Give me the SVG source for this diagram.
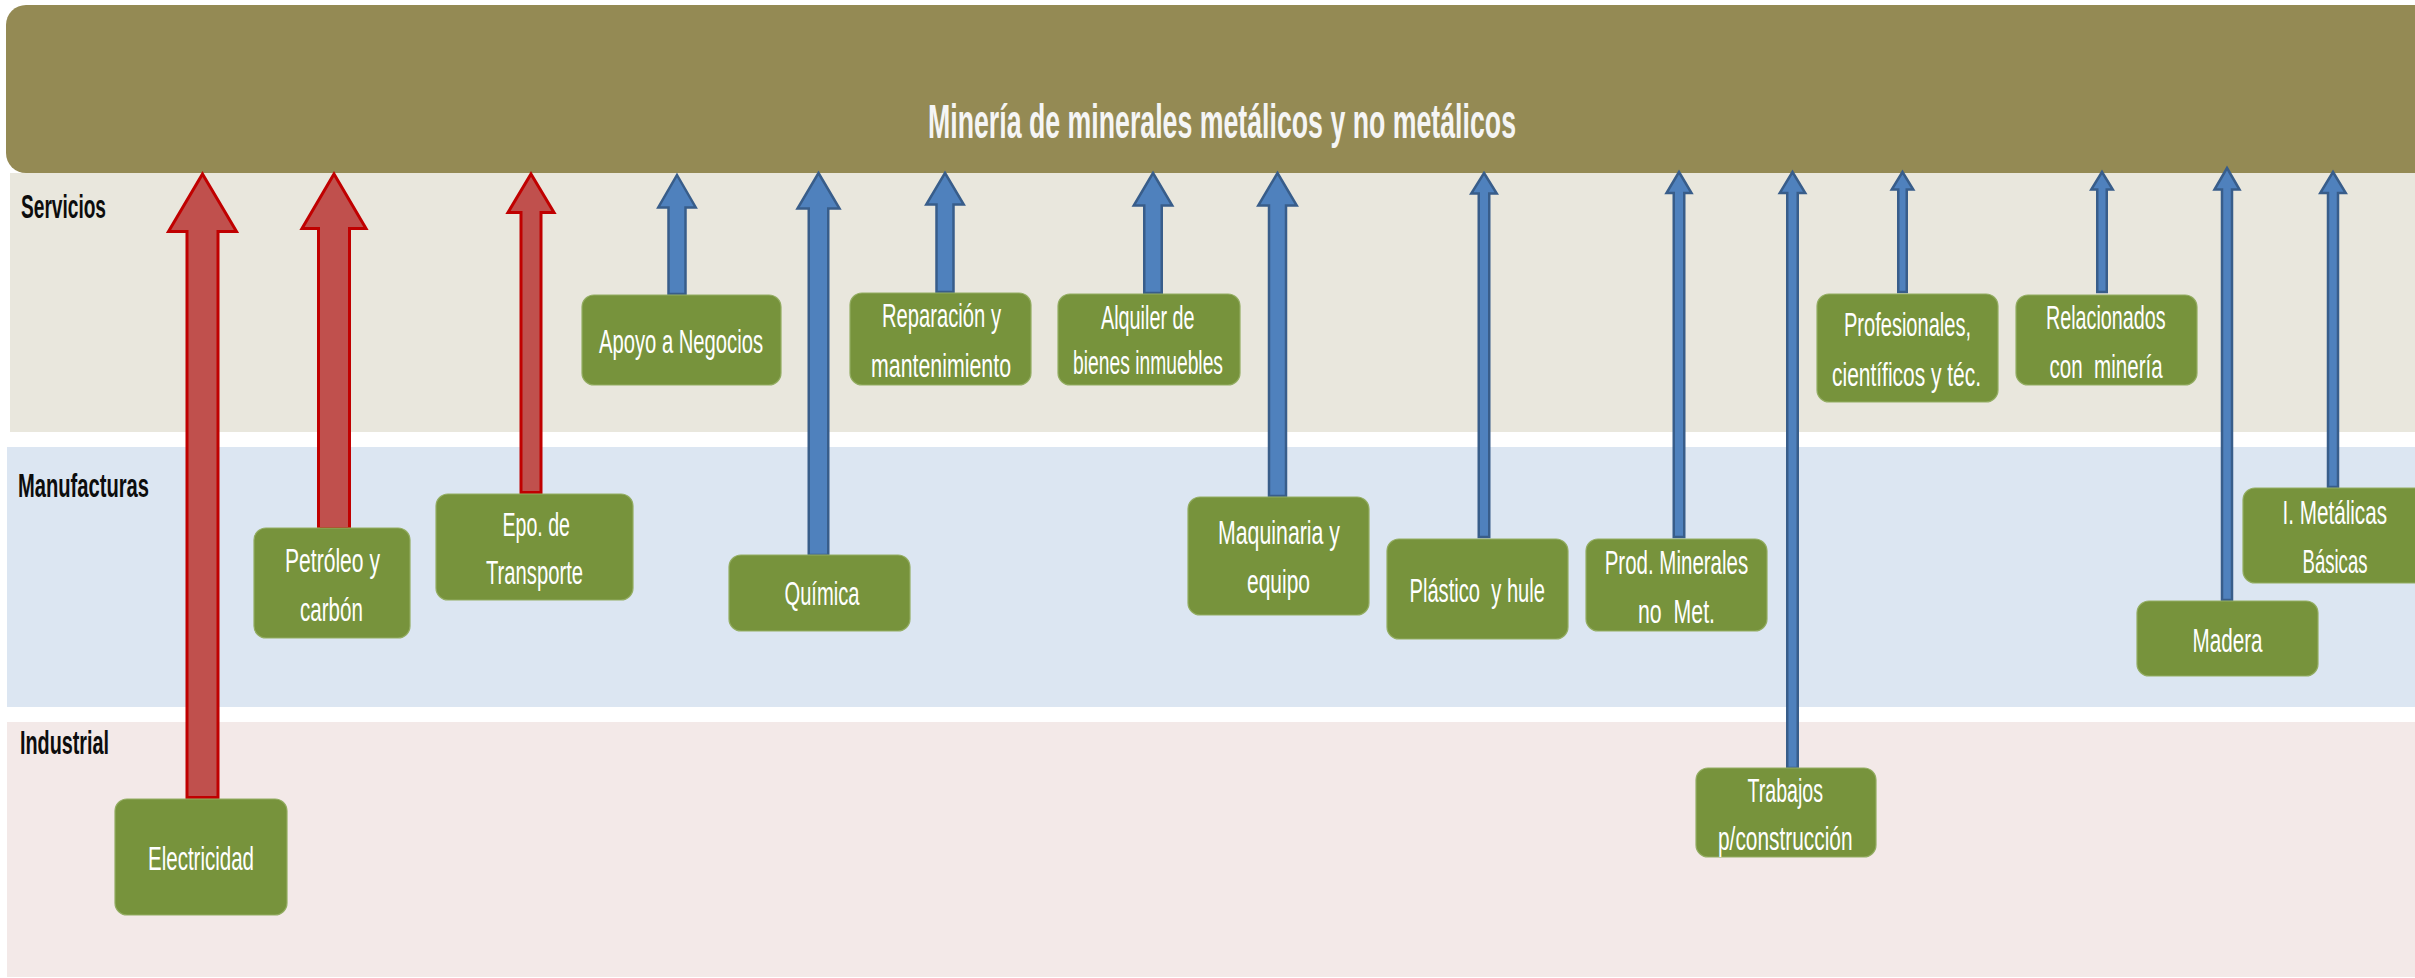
<svg xmlns="http://www.w3.org/2000/svg" width="2415" height="978" viewBox="0 0 2415 978">
<style>
.band-top{fill:#948A54}
.band-serv{fill:#E9E7DD}
.band-manu{fill:#DCE6F2}
.band-ind{fill:#F3E9E8}
.lbl{font-family:"Liberation Sans",Arial,sans-serif;font-weight:bold;font-size:34px;fill:#0D0D0D}
.title{font-family:"Liberation Sans",Arial,sans-serif;font-weight:bold;font-size:49px;fill:#F5F5F5}
.box{fill:#77933C;stroke:#93AD62;stroke-width:1.2}
.t{font-family:"Liberation Sans",Arial,sans-serif;font-size:34px;fill:#FFFFFF}
.red{fill:#C0504D;stroke:#C00000;stroke-width:3;stroke-linejoin:miter}
.blue{fill:#4F81BD;stroke:#385D8A;stroke-width:2.5;stroke-linejoin:miter}
</style>
<rect width="2415" height="978" fill="#FFFFFF"/>
<g id="bands">
<rect class="band-serv" x="10" y="173" width="2405" height="259"/>
<rect class="band-manu" x="7" y="447" width="2408" height="260"/>
<rect class="band-ind" x="7" y="722" width="2408" height="255"/>
<text class="lbl" x="21" y="218" textLength="85" lengthAdjust="spacingAndGlyphs">Servicios</text>
<text class="lbl" x="18" y="497" textLength="131" lengthAdjust="spacingAndGlyphs">Manufacturas</text>
<text class="lbl" x="20" y="754" textLength="89" lengthAdjust="spacingAndGlyphs">Industrial</text>
</g>
<g id="mineria">
<rect class="band-top" x="6" y="5" width="2440" height="168" rx="20" ry="20"/>
<text class="title" x="928" y="138" textLength="588" lengthAdjust="spacingAndGlyphs">Minería de minerales metálicos y no metálicos</text>
</g>
<g id="connectors">
<path class="red" d="M202.5,174 L236.5,231.5 L218,231.5 L218,797.5 L187,797.5 L187,231.5 L168.5,231.5 Z"/>
<path class="red" d="M334,174 L366,228.5 L349.5,228.5 L349.5,528.5 L318.5,528.5 L318.5,228.5 L302,228.5 Z"/>
<path class="red" d="M531,174 L554,212.5 L541,212.5 L541,492.5 L521,492.5 L521,212.5 L508,212.5 Z"/>
<path class="blue" d="M677,175 L695.75,207.5 L685.5,207.5 L685.5,294 L668.5,294 L668.5,207.5 L658.25,207.5 Z"/>
<path class="blue" d="M818.5,173 L839.5,208.5 L828.25,208.5 L828.25,555 L808.75,555 L808.75,208.5 L797.5,208.5 Z"/>
<path class="blue" d="M945,173 L963.75,204.5 L953.5,204.5 L953.5,292 L936.5,292 L936.5,204.5 L926.25,204.5 Z"/>
<path class="blue" d="M1153,173 L1172.25,205.5 L1161.75,205.5 L1161.75,293 L1144.25,293 L1144.25,205.5 L1133.75,205.5 Z"/>
<path class="blue" d="M1277.5,173 L1296.75,205.5 L1286,205.5 L1286,496 L1269,496 L1269,205.5 L1258.25,205.5 Z"/>
<path class="blue" d="M1484,173 L1496.75,193.5 L1489.25,193.5 L1489.25,537 L1478.75,537 L1478.75,193.5 L1471.25,193.5 Z"/>
<path class="blue" d="M1679,172 L1691.5,193 L1684.25,193 L1684.25,537 L1673.75,537 L1673.75,193 L1666.5,193 Z"/>
<path class="blue" d="M1792.5,172 L1805.25,193 L1797.75,193 L1797.75,768 L1787.25,768 L1787.25,193 L1779.75,193 Z"/>
<path class="blue" d="M1902.5,172 L1913.25,189.5 L1906.75,189.5 L1906.75,292 L1898.25,292 L1898.25,189.5 L1891.75,189.5 Z"/>
<path class="blue" d="M2102,172 L2112.75,189.5 L2106.75,189.5 L2106.75,292 L2097.25,292 L2097.25,189.5 L2091.25,189.5 Z"/>
<path class="blue" d="M2227,168 L2239.5,189.5 L2232,189.5 L2232,600 L2222,600 L2222,189.5 L2214.5,189.5 Z"/>
<path class="blue" d="M2333,172 L2345.75,193 L2338,193 L2338,487 L2328,487 L2328,193 L2320.25,193 Z"/>
</g>
<g id="electricidad">
<rect class="box" x="115" y="799" width="172" height="116" rx="12"/>
<text class="t" x="148" y="870" textLength="106" lengthAdjust="spacingAndGlyphs">Electricidad</text>
</g>
<g id="petroleo">
<rect class="box" x="254" y="528" width="156" height="110" rx="12"/>
<text class="t" x="285" y="572" textLength="95" lengthAdjust="spacingAndGlyphs">Petróleo y</text>
<text class="t" x="300" y="621" textLength="63" lengthAdjust="spacingAndGlyphs">carbón</text>
</g>
<g id="transporte">
<rect class="box" x="436" y="494" width="197" height="106" rx="12"/>
<text class="t" x="502.5" y="536" textLength="67.5" lengthAdjust="spacingAndGlyphs">Epo. de</text>
<text class="t" x="486" y="584" textLength="97" lengthAdjust="spacingAndGlyphs">Transporte</text>
</g>
<g id="apoyo">
<rect class="box" x="582" y="295" width="199" height="90" rx="12"/>
<text class="t" x="599" y="353" textLength="164" lengthAdjust="spacingAndGlyphs">Apoyo a Negocios</text>
</g>
<g id="quimica">
<rect class="box" x="729" y="555" width="181" height="76" rx="12"/>
<text class="t" x="784.5" y="605" textLength="75" lengthAdjust="spacingAndGlyphs">Química</text>
</g>
<g id="reparacion">
<rect class="box" x="850" y="293" width="181" height="92" rx="12"/>
<text class="t" x="882" y="327" textLength="119" lengthAdjust="spacingAndGlyphs">Reparación y</text>
<text class="t" x="871" y="377" textLength="140" lengthAdjust="spacingAndGlyphs">mantenimiento</text>
</g>
<g id="alquiler">
<rect class="box" x="1058" y="294" width="182" height="91" rx="12"/>
<text class="t" x="1101" y="329" textLength="93.5" lengthAdjust="spacingAndGlyphs">Alquiler de</text>
<text class="t" x="1073" y="374" textLength="150" lengthAdjust="spacingAndGlyphs">bienes inmuebles</text>
</g>
<g id="maquinaria">
<rect class="box" x="1188" y="497" width="181" height="118" rx="12"/>
<text class="t" x="1218" y="544" textLength="122" lengthAdjust="spacingAndGlyphs">Maquinaria y</text>
<text class="t" x="1247" y="593" textLength="63" lengthAdjust="spacingAndGlyphs">equipo</text>
</g>
<g id="plastico">
<rect class="box" x="1387" y="539" width="181" height="100" rx="12"/>
<text class="t" x="1409.5" y="602" textLength="135.5" lengthAdjust="spacingAndGlyphs" xml:space="preserve">Plástico  y hule</text>
</g>
<g id="prod-minerales">
<rect class="box" x="1586" y="539" width="181" height="92" rx="12"/>
<text class="t" x="1604.7" y="574" textLength="143.5" lengthAdjust="spacingAndGlyphs">Prod. Minerales</text>
<text class="t" x="1638" y="623" textLength="77" lengthAdjust="spacingAndGlyphs" xml:space="preserve">no  Met.</text>
</g>
<g id="trabajos">
<rect class="box" x="1696" y="768" width="180" height="89" rx="12"/>
<text class="t" x="1747.5" y="802" textLength="75.5" lengthAdjust="spacingAndGlyphs">Trabajos</text>
<text class="t" x="1718" y="850" textLength="134.5" lengthAdjust="spacingAndGlyphs">p/construcción</text>
</g>
<g id="profesionales">
<rect class="box" x="1817" y="294" width="181" height="108" rx="12"/>
<text class="t" x="1844" y="336" textLength="127" lengthAdjust="spacingAndGlyphs">Profesionales,</text>
<text class="t" x="1832" y="386" textLength="149" lengthAdjust="spacingAndGlyphs">científicos y téc.</text>
</g>
<g id="relacionados">
<rect class="box" x="2016" y="295" width="181" height="90" rx="12"/>
<text class="t" x="2046" y="329" textLength="119.5" lengthAdjust="spacingAndGlyphs">Relacionados</text>
<text class="t" x="2049.6" y="378" textLength="113" lengthAdjust="spacingAndGlyphs" xml:space="preserve">con  minería</text>
</g>
<g id="madera">
<rect class="box" x="2137" y="601" width="181" height="75" rx="12"/>
<text class="t" x="2192.5" y="652" textLength="70" lengthAdjust="spacingAndGlyphs">Madera</text>
</g>
<g id="metalicas">
<rect class="box" x="2243" y="488" width="200" height="95" rx="12"/>
<text class="t" x="2282.5" y="524" textLength="104.5" lengthAdjust="spacingAndGlyphs">I. Metálicas</text>
<text class="t" x="2302.5" y="573" textLength="65" lengthAdjust="spacingAndGlyphs">Básicas</text>
</g>
</svg>
